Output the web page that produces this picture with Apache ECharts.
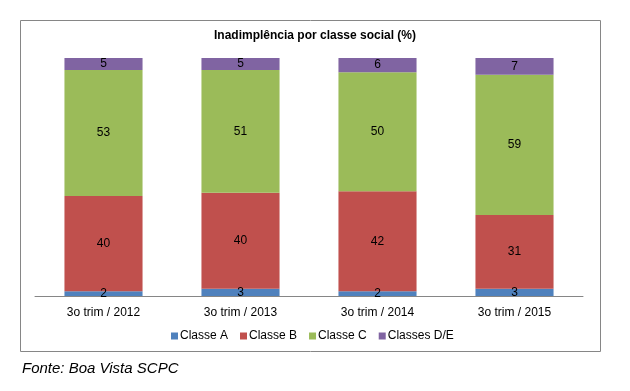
<!DOCTYPE html>
<html><head><meta charset="utf-8">
<script src="https://cdn.jsdelivr.net/npm/echarts@6/dist/echarts.min.js"></script>
<style>html,body{margin:0;padding:0;background:#fff}#c{width:630px;height:391px}</style>
</head><body><div id="c"></div>
<script>
const categories = ['3o trim / 2012', '3o trim / 2013', '3o trim / 2014', '3o trim / 2015'];
const classeA = [2, 3, 2, 3];
const classeB = [40, 40, 42, 31];
const classeC = [53, 51, 50, 59];
const classeDE = [5, 5, 6, 7];
const seriesNames = ['Classe A', 'Classe B', 'Classe C', 'Classes D/E'];
const colors = ['#4F81BD', '#C0504D', '#9BBB59', '#8064A2'];

const raw = [classeA, classeB, classeC, classeDE];
const totals = categories.map((_, i) => raw.reduce((s, arr) => s + arr[i], 0));

const chart = echarts.init(document.getElementById('c'));
const font = 'Liberation Sans, Arial, sans-serif';
chart.setOption({
  backgroundColor: '#fff',
  animation: false,
  color: colors,
  title: {
    text: 'Inadimplência por classe social (%)',
    left: 'center', top: 25,
    textStyle: { fontFamily: font, fontSize: 12, fontWeight: 'bold', color: '#000' }
  },
  legend: {
    bottom: 44, left: 166,
    itemWidth: 7, itemHeight: 7, itemGap: 12,
    icon: 'rect',
    textStyle: { fontFamily: font, fontSize: 12, color: '#000', padding: [0, 0, 0, -3] },
    data: seriesNames
  },
  grid: { left: 35, right: 47, top: 58, bottom: 95, containLabel: false },
  xAxis: {
    type: 'category', data: categories,
    axisLine: { lineStyle: { color: '#868686' } },
    axisTick: { show: false },
    axisLabel: { fontFamily: font, fontSize: 12, color: '#000', margin: 11 }
  },
  yAxis: { type: 'value', min: 0, max: 100, show: false, splitLine: { show: false } },
  graphic: [
    { type: 'rect', shape: { x: 20.5, y: 20.5, width: 580, height: 331 },
      style: { fill: 'none', stroke: '#868686', lineWidth: 1 }, z: -1 },
    { type: 'text', left: 22, top: 361,
      style: { text: 'Fonte: Boa Vista SCPC', font: 'italic 15px Liberation Sans, Arial, sans-serif', fill: '#000' } }
  ],
  series: raw.map((arr, k) => ({
    name: seriesNames[k], type: 'bar', stack: 'total',
    barCategoryGap: '43%',
    data: arr.map((v, i) => ({ value: v / totals[i] * 100, raw: v })),
    label: {
      show: true, position: 'inside',
      fontFamily: font, fontSize: 12, color: '#000',
      formatter: p => String(p.data.raw)
    }
  }))
});
</script></body></html>
